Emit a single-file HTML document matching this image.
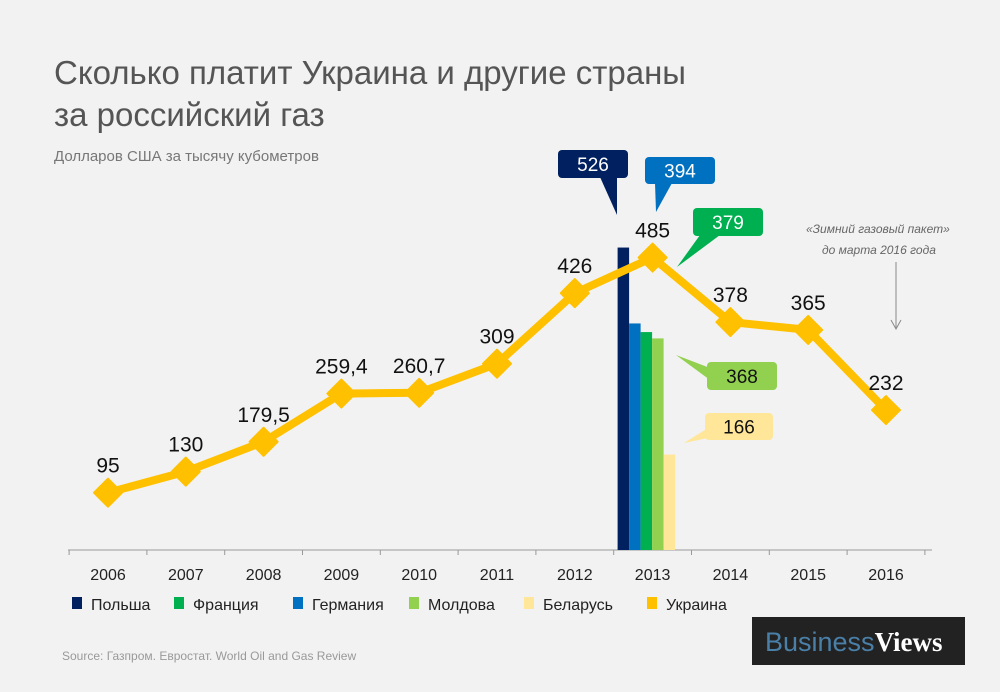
<!DOCTYPE html>
<html><head><meta charset="utf-8"><style>
body{margin:0;background:#f2f2f2;font-family:"Liberation Sans","DejaVu Sans",sans-serif;}
#wrap{position:relative;width:1000px;height:692px;overflow:hidden;background:#f2f2f2;}
</style></head><body>
<div id="wrap">
<svg id="svg" width="1000" height="692" xmlns="http://www.w3.org/2000/svg">
<text x="54" y="84" font-size="33" fill="#555">Сколько платит Украина и другие страны</text>
<text x="54" y="126" font-size="33" fill="#555">за российский газ</text>
<text x="54" y="161" font-size="15" fill="#777">Долларов США за тысячу кубометров</text>
<g id="axis"></g>
<g id="bars"></g>
<g id="line"></g>
<g id="callouts"></g>
<g id="legend"></g>
<text x="806" y="233" font-size="12" font-style="italic" fill="#666">«Зимний газовый пакет»</text>
<text x="822" y="254" font-size="12" font-style="italic" fill="#666">до марта 2016 года</text>
<line x1="896" y1="262" x2="896" y2="328" stroke="#888" stroke-width="1"/>
<path d="M891 320 L896 329 L901 320" fill="none" stroke="#888"/>
<text x="62" y="660" font-size="12" fill="#999">Source: Газпром. Евростат. World Oil and Gas Review</text>
<rect x="752" y="617" width="213" height="48" fill="#222"/>
<text x="765" y="651" font-size="27"><tspan fill="#4a7fa8">Business</tspan><tspan fill="#fff" font-weight="bold" font-family="Liberation Serif, serif">Views</tspan></text>
</svg>
<script>
const years=[2006,2007,2008,2009,2010,2011,2012,2013,2014,2015,2016];
const ukraine=[95,130,179.5,259.4,260.7,309,426,485,378,365,232];
const ukraineLabels=["95","130","179,5","259,4","260,7","309","426","485","378","365","232"];
const barNames=["Польша","Германия","Франция","Молдова","Беларусь"];
const barValues=[526,394,379,368,166];
const barColors=["#002060","#0070C0","#00B050","#92D050","#FFE699"];
const legendNames=["Польша","Франция","Германия","Молдова","Беларусь","Украина"];
const legendColors=["#002060","#00B050","#0070C0","#92D050","#FFE699","#FFC000"];
const NS="http://www.w3.org/2000/svg";
const x=y=>108+(y-2006)*77.8;
const yv=v=>550-v*0.603;
const ybar=v=>550-v*0.575;
function mk(t,a,p){const e=document.createElementNS(NS,t);for(const k in a)e.setAttribute(k,a[k]);p.appendChild(e);return e;}
const ax=document.getElementById('axis');
let l=mk('line',{x1:68,y1:550,x2:932,y2:550,stroke:'#999','stroke-width':1},ax);


for(let i=0;i<=years.length;i++){const tx=x(2006)-38.9+i*77.8;
 const t=mk('line',{x1:tx,y1:550,x2:tx,y2:555,stroke:'#999'},ax);
 
 }
years.forEach(y=>{const t=mk('text',{x:x(y),y:580,'font-size':16,'text-anchor':'middle',fill:'#222'},ax);t.textContent=y;
 
 });
const bg=document.getElementById('bars');
barValues.forEach((v,i)=>{const bx=x(2013)-35+i*11.5;
 const r=mk('rect',{x:bx,y:ybar(v),width:11.5,height:550-ybar(v),fill:barColors[i]},bg);
 
 });
const lg=document.getElementById('line');
const pl=mk('polyline',{points:years.map((y,i)=>x(y)+','+yv(ukraine[i])).join(' '),fill:'none',stroke:'#FFC000','stroke-width':8,'stroke-linejoin':'round'},lg);


years.forEach((y,i)=>{const cx=x(y),cy=yv(ukraine[i]);
 const d=mk('path',{d:`M${cx} ${cy-14}L${cx+14} ${cy}L${cx} ${cy+14}L${cx-14} ${cy}Z`,fill:'#FFC000','stroke':'#FFC000','stroke-width':2,'stroke-linejoin':'round'},lg);
 
 
 const t=mk('text',{x:cx,y:cy-20,'font-size':21,'text-anchor':'middle',fill:'#111'},lg);t.textContent=ukraineLabels[i];
 
 });
const cg=document.getElementById('callouts');
function callout(bx,by,w,h,tipx,tipy,b1,b2,col,txtcol,txt,name){
 const p=mk('path',{d:`M${b1} ${by+h-1}L${tipx} ${tipy}L${b2} ${by+h-1}Z`,fill:col},cg);
 
 
 const r=mk('rect',{x:bx,y:by,width:w,height:h,rx:4,fill:col},cg);
 
 
 const t=mk('text',{x:bx+w/2,y:by+h/2+7,'font-size':19,'text-anchor':'middle',fill:txtcol},cg);t.textContent=txt;
 
 }
callout(558,150,70,28,617,215,600,617,'#002060','#fff',String(barValues[0]),'callout-poland');
callout(645,157,70,27,656,212,655,672,'#0070C0','#fff',String(barValues[1]),'callout-germany');
callout(693,208,70,28,677,267,700,720,'#00B050','#fff',String(barValues[2]),'callout-france');
callout(707,362,70,28,676,355,707,707,'#92D050','#111',String(barValues[3]),'callout-moldova');
callout(705,413,68,27,684,443,705,705,'#FFE699','#111',String(barValues[4]),'callout-belarus');
let p1=mk('path',{d:'M676 355L710 368L710 380Z',fill:'#92D050'},cg);


let p2=mk('path',{d:'M684 443L708 428L708 438Z',fill:'#FFE699'},cg);


const lgd=document.getElementById('legend');
const lx=[72,174,293,409,524,647];
legendNames.forEach((n,i)=>{
 const r=mk('rect',{x:lx[i],y:597,width:10,height:12,fill:legendColors[i]},lgd);
 
 
 const t=mk('text',{x:lx[i]+19,y:610,'font-size':16,fill:'#222'},lgd);t.textContent=n;
 
 });
</script>
</div>
</body></html>
